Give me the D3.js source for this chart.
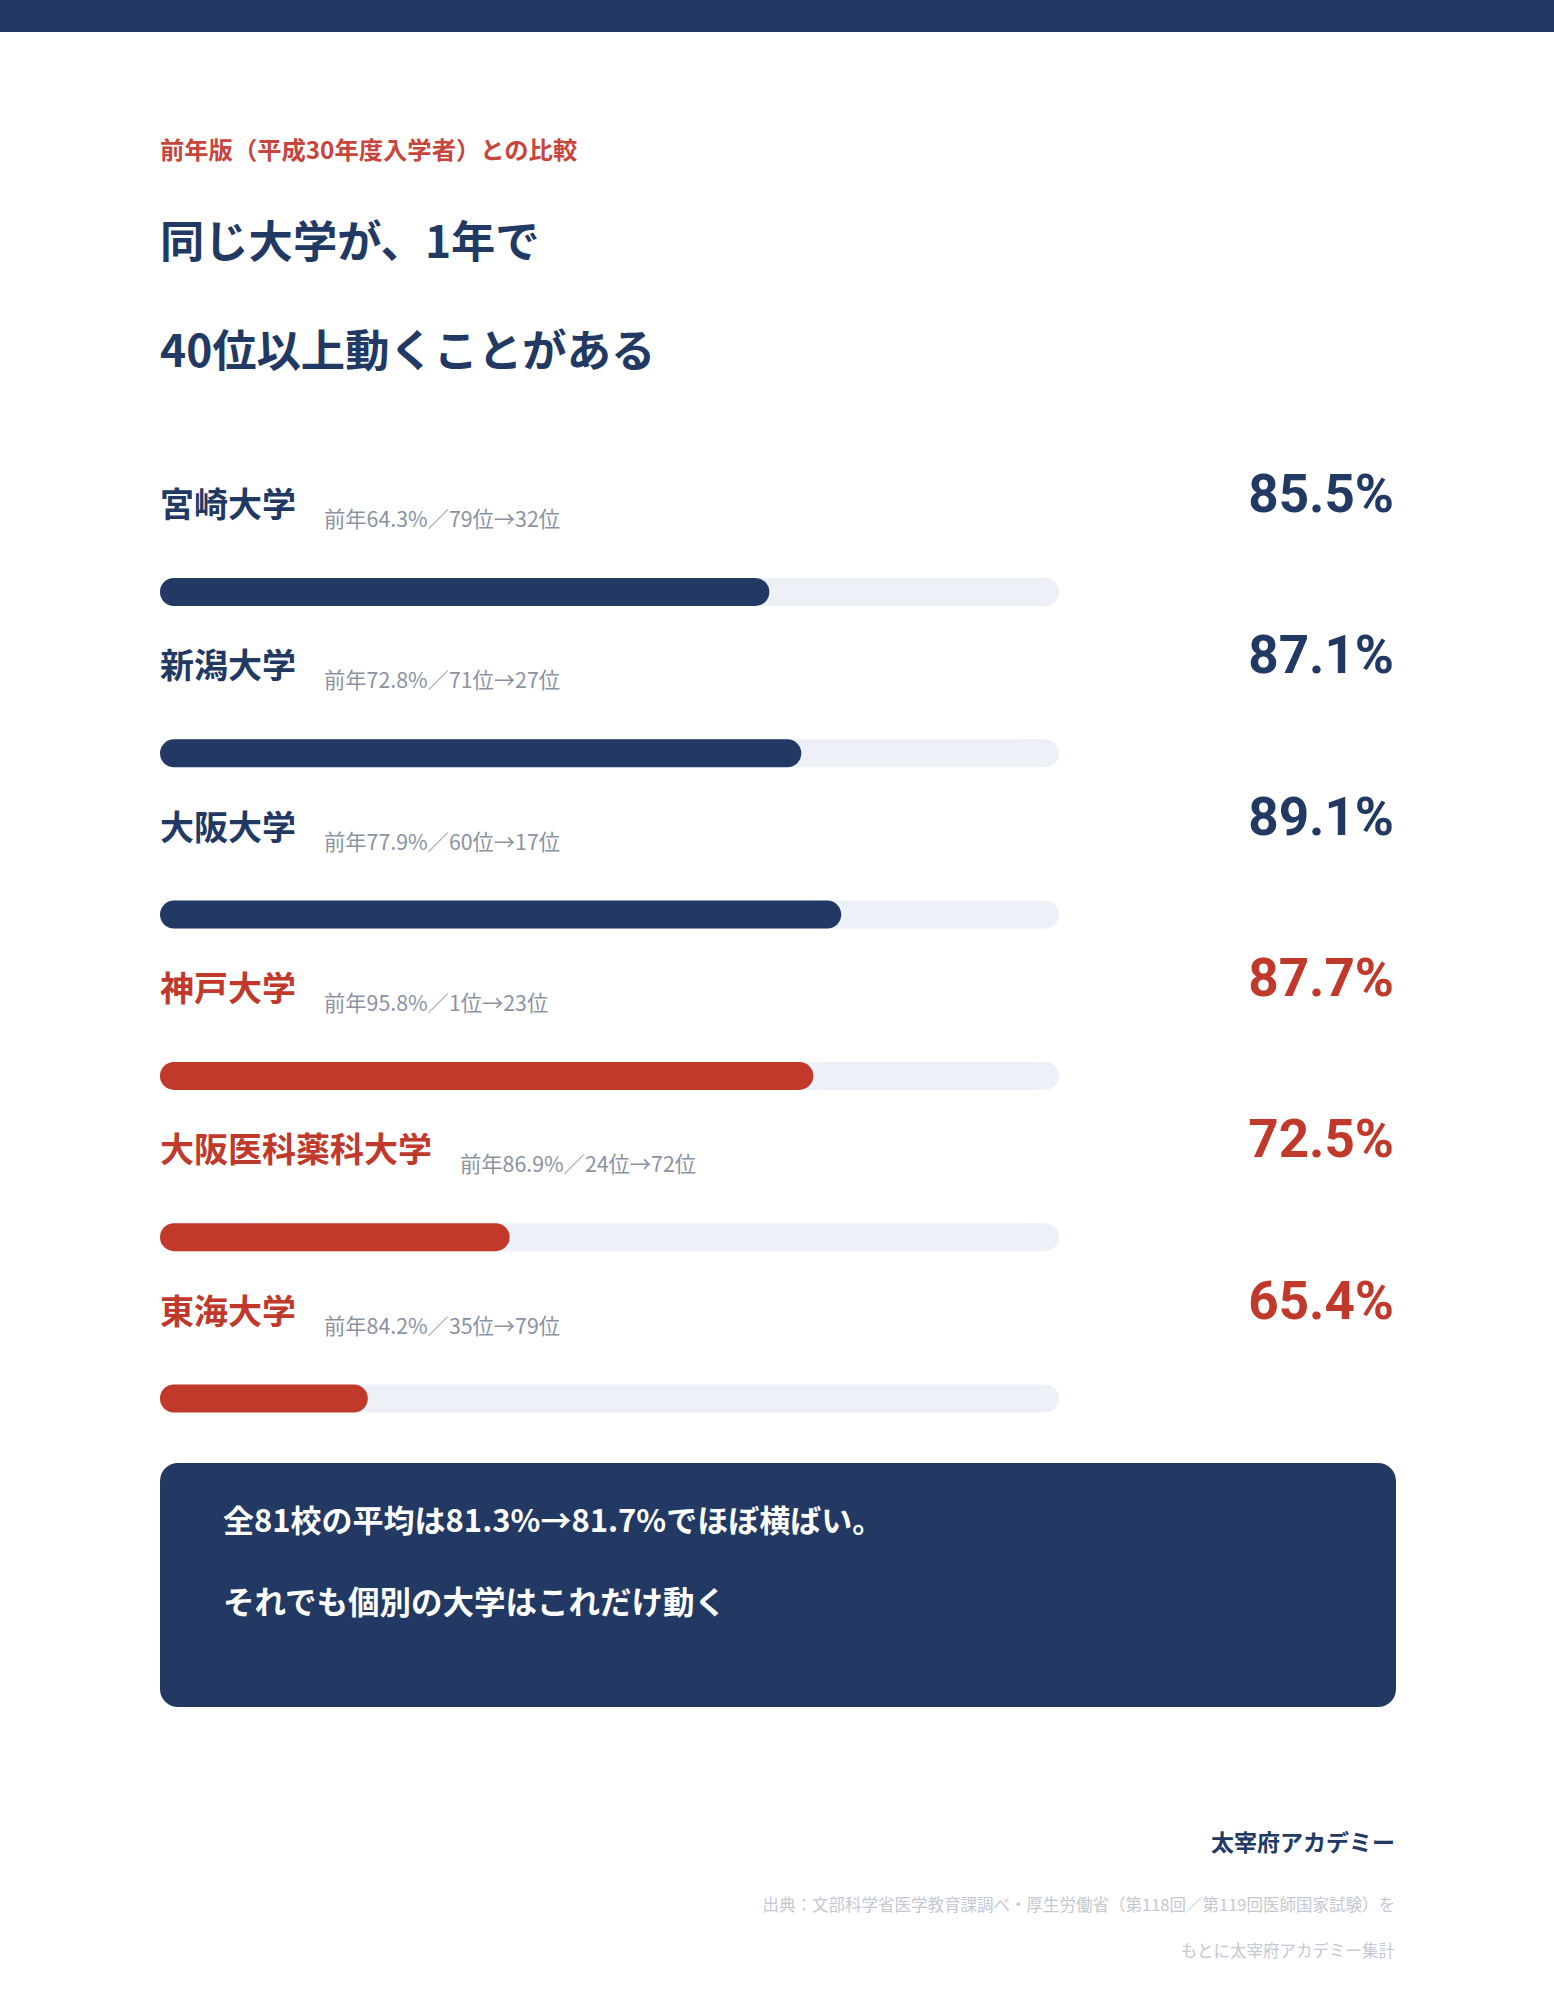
<!DOCTYPE html>
<html><head><meta charset="utf-8">
<script src="https://cdn.jsdelivr.net/npm/d3@7"></script>
<style>
html,body{margin:0;padding:0;background:#fff;}
svg{display:block;font-family:"Noto Sans CJK JP","Noto Sans",sans-serif;}
</style></head>
<body><svg id="chart" width="1554" height="2000"></svg>
<script>
const universities = ["宮崎大学","新潟大学","大阪大学","神戸大学","大阪医科薬科大学","東海大学"];
const rateNow = [85.5, 87.1, 89.1, 87.7, 72.5, 65.4];
const ratePrev = [64.3, 72.8, 77.9, 95.8, 86.9, 84.2];
const rankPrev = [79, 71, 60, 1, 24, 35];
const rankNow = [32, 27, 17, 23, 72, 79];
const scaleDomain = [55, 100];

const NAVY = "#213963", RED = "#c0392b", TRACK = "#edf0f7", GRAY = "#8a92a3", LIGHT = "#c4c8d1";
const svg = d3.select("#chart");

svg.append("rect").attr("x",0).attr("y",0).attr("width",1554).attr("height",32).attr("fill",NAVY);
svg.append("text").attr("x",160).attr("y",159).attr("font-size",24.3).attr("font-weight",700).attr("fill","#c8453b")
  .text("前年版（平成30年度入学者）との比較");
svg.append("text").attr("x",160).attr("y",258).attr("font-size",44.3).attr("font-weight",700).attr("fill",NAVY).text("同じ大学が、1年で");
svg.append("text").attr("x",160).attr("y",367).attr("font-size",44.3).attr("font-weight",700).attr("fill",NAVY).text("40位以上動くことがある");

const trackX = 160, trackW = 899, barH = 28;
const x = d3.scaleLinear().domain(scaleDomain).range([0, trackW]).clamp(true);
const y = d3.scalePoint().domain(universities).range([0, 5*161.3]);

const rows = svg.selectAll("g.row").data(universities.map((n,i)=>({name:n, now:rateNow[i], prev:ratePrev[i], rp:rankPrev[i], rn:rankNow[i]})))
  .enter().append("g").attr("class","row").attr("transform", d=>`translate(0,${y(d.name)})`);

const col = d => d.rn > d.rp ? RED : NAVY;

rows.append("text").attr("class","nm").attr("x",160).attr("y",517).attr("font-size",34).attr("font-weight",700)
  .attr("fill",col).text(d=>d.name);
rows.each(function(d){
  const g = d3.select(this);
  const w = g.select("text.nm").node().getComputedTextLength();
  g.append("text").attr("x",160+w+28).attr("y",527).attr("font-size",21.3).attr("fill",GRAY)
    .text(`前年${d.prev}%／${d.rp}位→${d.rn}位`);
});
rows.append("text").attr("x",1394).attr("y",512).attr("text-anchor","end").attr("font-size",53).attr("font-weight",700)
  .attr("fill",col).attr("font-family","Roboto,'Liberation Sans',sans-serif").text(d=>d3.format(".1f")(d.now)+"%");
rows.append("rect").attr("x",trackX).attr("y",592-barH/2).attr("width",trackW).attr("height",barH).attr("rx",barH/2).attr("fill",TRACK);
rows.append("rect").attr("x",trackX).attr("y",592-barH/2).attr("width",d=>x(d.now)).attr("height",barH).attr("rx",barH/2).attr("fill",col);

svg.append("rect").attr("x",160).attr("y",1463).attr("width",1236).attr("height",244).attr("rx",18).attr("fill",NAVY);
svg.append("text").attr("x",223).attr("y",1532).attr("font-size",31).attr("font-weight",700).attr("fill","#fff").text("全81校の平均は81.3%→81.7%でほぼ横ばい。");
svg.append("text").attr("x",223).attr("y",1614).attr("font-size",31.5).attr("font-weight",700).attr("fill","#fff").text("それでも個別の大学はこれだけ動く");

svg.append("text").attr("x",1395).attr("y",1851).attr("text-anchor","end").attr("font-size",23).attr("font-weight",700).attr("fill",NAVY).text("太宰府アカデミー");
svg.append("text").attr("x",1395).attr("y",1911).attr("text-anchor","end").attr("font-size",16.5).attr("fill",LIGHT).text("出典：文部科学省医学教育課調べ・厚生労働省（第118回／第119回医師国家試験）を");
svg.append("text").attr("x",1395).attr("y",1957).attr("text-anchor","end").attr("font-size",16.5).attr("fill",LIGHT).text("もとに太宰府アカデミー集計");
</script></body></html>
